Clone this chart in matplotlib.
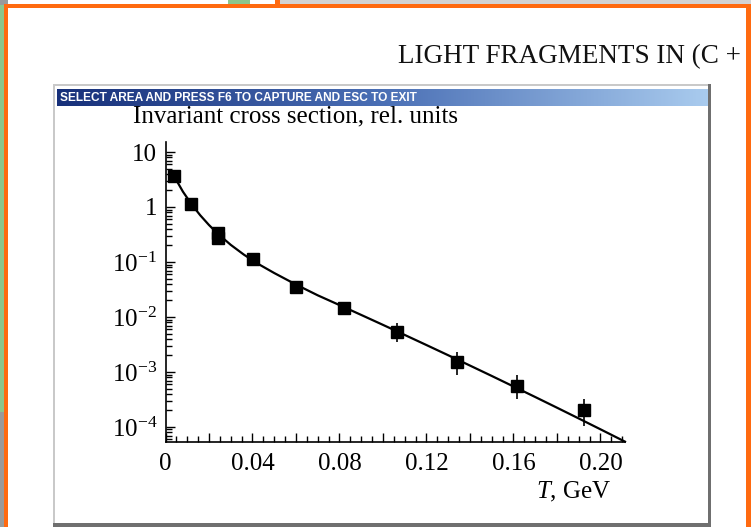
import numpy as np
import matplotlib
matplotlib.use("Agg")
import matplotlib.pyplot as plt
from matplotlib.patches import Rectangle
from matplotlib.colors import LinearSegmentedColormap
from matplotlib.ticker import MultipleLocator, FixedLocator, FuncFormatter, LogLocator, NullFormatter

# ---------------- data ----------------
T_pts = [0.0039, 0.0116, 0.0240, 0.0240, 0.0404, 0.0600, 0.0822, 0.1066, 0.1339, 0.1618, 0.1924]
sigma_pts = [3.66, 1.13, 0.336, 0.273, 0.114, 0.0356, 0.01476, 0.00527, 0.00154, 5.56e-4, 2.04e-4]
sigma_hi = [3.66, 1.13, 0.336, 0.273, 0.114, 0.0356, 0.01476, 7.7e-3, 2.34e-3, 8.8e-4, 3.18e-4]
sigma_lo = [3.66, 1.13, 0.336, 0.273, 0.114, 0.0356, 0.01476, 3.56e-3, 8.8e-4, 3.18e-4, 1.05e-4]

T_fit = [0.0039, 0.008, 0.012, 0.016, 0.020, 0.024, 0.030, 0.036, 0.042, 0.050, 0.060,
         0.070, 0.080, 0.090, 0.100, 0.110, 0.120, 0.130, 0.140, 0.150, 0.160, 0.170,
         0.180, 0.190, 0.200, 0.2113]
sigma_fit = [3.66, 1.905, 1.117, 0.705, 0.470, 0.328, 0.205, 0.1365, 0.0953, 0.0630, 0.0389,
             0.02478, 0.01647, 0.01090, 0.00719, 0.00472, 0.00309, 0.002016, 1.309e-3, 8.48e-4,
             5.46e-4, 3.51e-4, 2.245e-4, 1.43e-4, 9.08e-5, 5.41e-5]

x_major = [0.0, 0.02, 0.04, 0.06, 0.08, 0.10, 0.12, 0.14, 0.16, 0.18, 0.20]
x_labels = {0.0: "0", 0.04: "0.04", 0.08: "0.08", 0.12: "0.12", 0.16: "0.16", 0.20: "0.20"}
y_major = [1e-4, 1e-3, 1e-2, 1e-1, 1, 10]
y_labels = [r"$10^{-4}$", r"$10^{-3}$", r"$10^{-2}$", r"$10^{-1}$", "1", "10"]

# ---------------- style ----------------
plt.rcParams["font.family"] = ["Liberation Serif", "DejaVu Serif"]
plt.rcParams["mathtext.fontset"] = "custom"
plt.rcParams["mathtext.rm"] = "Liberation Serif"
plt.rcParams["mathtext.it"] = "Liberation Serif:italic"
plt.rcParams["mathtext.bf"] = "Liberation Serif:bold"

W, H = 751, 527
fig = plt.figure(figsize=(W / 100, H / 100), dpi=100)
fig.patch.set_facecolor("white")


def rect(x0, y0, x1, y1, color, z=0):
    fig.add_artist(Rectangle((x0 / W, 1 - y1 / H), (x1 - x0) / W, (y1 - y0) / H,
                             transform=fig.transFigure, facecolor=color, edgecolor="none",
                             lw=0, zorder=z))

# ---- screenshot decorations ----
ORANGE = "#ff6a10"
rect(280, 0, 751, 5, "#d3d3d3", 0)
rect(228, 0, 250, 5, "#8cc68c", 0)
rect(275, 0, 280, 5, ORANGE, 0)
rect(0, 0, 8, 5, "#9a9a9a", 0)
rect(0, 5, 4, 412, "#8cc68c", 0)
rect(0, 412, 4, 527, "#9a9a9a", 0)
# window frame
rect(53, 84, 711, 527, "#c9c9c9", 0.1)
rect(55, 86, 708, 524, "white", 0.2)
rect(708, 84, 711, 527, "#6f6f6f", 0.3)
rect(53, 523, 711, 527, "#6f6f6f", 0.3)

# gradient title bar
bar_ax = fig.add_axes([57 / W, 1 - 106 / H, (708 - 57) / W, (106 - 89) / H], zorder=0.5)
grad = np.linspace(0, 1, 256)[None, :]
cmap = LinearSegmentedColormap.from_list("bar", ["#17307a", "#4a6fb5", "#a9cbee"])
bar_ax.imshow(grad, aspect="auto", cmap=cmap, extent=[0, 1, 0, 1])
bar_ax.set_axis_off()
bar_ax.text(0.004, 0.45, "SELECT AREA AND PRESS F6 TO CAPTURE AND ESC TO EXIT",
            color="white", fontweight="bold", family=["Liberation Sans", "DejaVu Sans"],
            fontsize=8.6, va="center", ha="left", transform=bar_ax.transAxes)

# orange frame on top
rect(4, 4, 751, 8, ORANGE, 10)
rect(4, 4, 8, 527, ORANGE, 10)
rect(746, 4, 751, 527, ORANGE, 10)

# header text (cut at the right edge in the source screenshot)
fig.text(398 / W, 1 - 57 / H, "LIGHT FRAGMENTS IN (C +", fontsize=19.5, ha="left",
         va="center", color="#111111", zorder=5)

# ---------------- main chart ----------------
ax = fig.add_axes([165.5 / W, 1 - 441.7 / H, (625 - 165.5) / W, (441.7 - 142) / H], zorder=1)
ax.set_facecolor("none")
ax.set_yscale("log")
ax.set_xlim(0, 0.2113)
ax.set_ylim(5.4e-5, 15.2)

ax.plot(T_fit, sigma_fit, color="black", lw=1.6, zorder=2, clip_on=False)
T_arr = np.array(T_pts)
s_arr = np.array(sigma_pts)
yerr = np.vstack([s_arr - np.array(sigma_lo), np.array(sigma_hi) - s_arr])
ax.errorbar(T_arr, s_arr, yerr=yerr, fmt="s", color="black", ms=8, elinewidth=1.2,
            capsize=0, zorder=3, clip_on=False)

for sp in ["top", "right"]:
    ax.spines[sp].set_visible(False)
for sp in ["left", "bottom"]:
    ax.spines[sp].set_linewidth(1.2)

ax.xaxis.set_major_locator(FixedLocator(x_major))
ax.xaxis.set_major_formatter(FuncFormatter(lambda v, p: x_labels.get(round(v, 2), "")))
ax.xaxis.set_minor_locator(MultipleLocator(0.005))
ax.yaxis.set_major_locator(FixedLocator(y_major))
ax.set_yticklabels(y_labels)
ax.yaxis.set_minor_locator(LogLocator(base=10, subs=np.arange(2, 10), numticks=20))
ax.yaxis.set_minor_formatter(NullFormatter())

ax.tick_params(axis="both", which="major", direction="in", length=6.5, width=1.0,
               labelsize=18, colors="black")
ax.tick_params(axis="both", which="minor", direction="in", length=4, width=1.0)
ax.tick_params(axis="x", which="major", pad=8)
ax.tick_params(axis="y", which="major", pad=6)

fig.text(133 / W, 1 - 116 / H, "Invariant cross section, rel. units", fontsize=18,
         ha="left", va="center", zorder=5)
fig.text(611 / W, 1 - 492 / H, r"$T$, GeV", fontsize=18, ha="right", va="center", zorder=5)

fig.savefig("out.png", dpi=100)
